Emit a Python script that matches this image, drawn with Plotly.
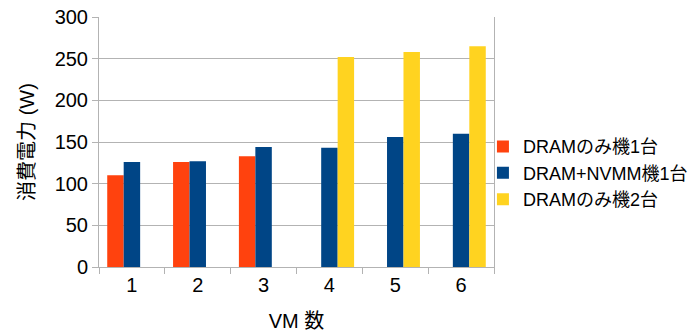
import plotly.graph_objects as go

# Power consumption (W) by number of VMs
vm_counts = ["1", "2", "3", "4", "5", "6"]
dram_one = [110, 126, 133, None, None, None]
dram_nvmm_one = [126, 127, 144, 143, 156, 160]
dram_two = [None, None, None, 252, 258, 265]

series_names = ["DRAMのみ機1台", "DRAM+NVMM機1台", "DRAMのみ機2台"]
series_colors = ["#FF420E", "#004586", "#FFD320"]

y_ticks = [0, 50, 100, 150, 200, 250, 300]

FONT = "Liberation Sans, Arial, Noto Sans CJK JP, sans-serif"

fig = go.Figure()
for name, vals, color in zip(series_names, [dram_one, dram_nvmm_one, dram_two], series_colors):
    fig.add_trace(go.Bar(
        x=vm_counts, y=vals, name=name,
        marker=dict(color=color, line=dict(width=0)),
    ))

fig.update_layout(
    width=690, height=336,
    margin=dict(l=99, r=196, t=17, b=69, autoexpand=False),
    paper_bgcolor="white", plot_bgcolor="white",
    barmode="group", bargap=0.25, bargroupgap=0,
    font=dict(family=FONT, color="#000000", size=20),
    legend=dict(
        x=0.972, xanchor="left", y=0.375, yanchor="middle",
        font=dict(size=18), tracegroupgap=0, itemwidth=30,
        bgcolor="rgba(0,0,0,0)",
    ),
    xaxis=dict(
        type="category", tickson="boundaries", automargin=False,
        showgrid=False, showline=True, linecolor="#b3b3b3", linewidth=1,
        ticks="outside", ticklen=6, tickcolor="#b3b3b3",
        tickfont=dict(size=20), mirror=False,
        title=dict(text="VM 数", font=dict(size=20), standoff=18),
    ),
    yaxis=dict(
        range=[0, 300], tickvals=y_ticks, automargin=False,
        showgrid=True, gridcolor="#b3b3b3", gridwidth=1,
        showline=True, linecolor="#b3b3b3", linewidth=1, mirror=True,
        ticks="outside", ticklen=6, tickcolor="#b3b3b3",
        tickfont=dict(size=20), zeroline=False,
        title=dict(text="消費電力 (W)", font=dict(size=20), standoff=14),
    ),
)

fig.write_html("out.html")
